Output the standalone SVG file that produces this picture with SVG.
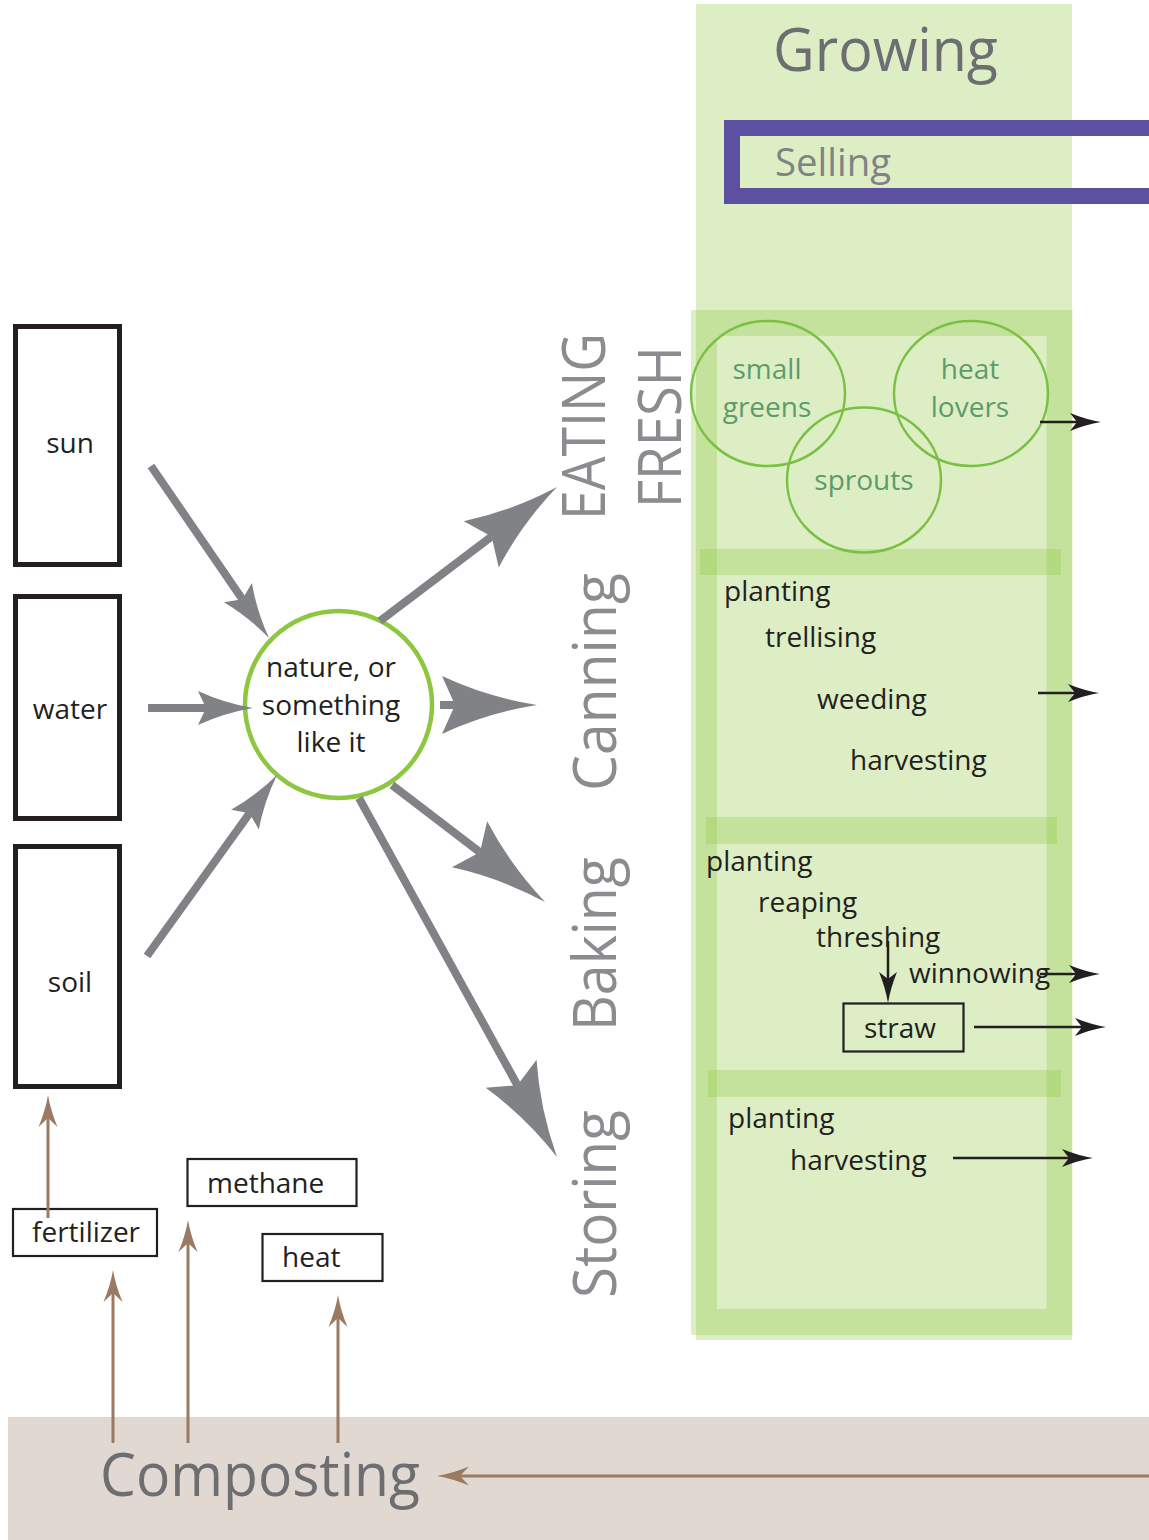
<svg xmlns="http://www.w3.org/2000/svg" width="1149" height="1540" viewBox="0 0 1149 1540">
<style>
text{font-family:"Open Sans","Noto Sans","Liberation Sans",sans-serif}
.t{font-size:28px;fill:#231f20}
.g{font-size:28px;fill:#5c9c6b;text-anchor:middle}
.big{font-size:60px;fill:#8a8c8f}
.box{fill:#fff;stroke:#231f20;stroke-width:2.2}
.tall{fill:#fff;stroke:#231f20;stroke-width:5}
.tint{fill:#8dc63f;fill-opacity:0.3}
.ring{fill:none;stroke:#7ac143;stroke-width:2.5}
.gl{stroke:#808285;stroke-width:8;fill:none}
.bl{stroke:#231f20;stroke-width:2.5;fill:none}
.br{stroke:#9a7a63;stroke-width:3;fill:none}
</style>
<defs>
<marker id="hg" markerUnits="userSpaceOnUse" orient="auto" refX="0" refY="0" markerWidth="1" markerHeight="1" overflow="visible"><path d="M82,0 Q32,-8 -13,-29 L0,0 L-13,29 Q32,8 82,0 Z" fill="#808285"/></marker>
<marker id="hs" markerUnits="userSpaceOnUse" orient="auto" refX="0" refY="0" markerWidth="1" markerHeight="1" overflow="visible"><path d="M47,0 Q18,-5 -8,-17 L0,0 L-8,17 Q18,5 47,0 Z" fill="#808285"/></marker>
<marker id="hb" markerUnits="userSpaceOnUse" orient="auto" refX="0" refY="0" markerWidth="1" markerHeight="1" overflow="visible"><path d="M24,0 Q9,-2.5 -7,-9 L0,0 L-7,9 Q9,2.5 24,0 Z" fill="#231f20"/></marker>
<marker id="hr" markerUnits="userSpaceOnUse" orient="auto" refX="0" refY="0" markerWidth="1" markerHeight="1" overflow="visible"><path d="M23,0 Q8,-2.5 -9,-9.5 L0,0 L-9,9.5 Q8,2.5 23,0 Z" fill="#9a7a63"/></marker>
</defs>

<g id="composting">
<rect x="8" y="1417" width="1141" height="123" fill="#e0d8d1"/>
<text x="100" y="1496" font-size="60" fill="#6d6e71" textLength="320" lengthAdjust="spacingAndGlyphs">Composting</text>
</g>

<g id="growing">
<rect class="tint" x="696" y="4" width="376" height="1336"/>
<rect x="704" y="323" width="355.5" height="999" fill="none" stroke="#8dc63f" stroke-opacity="0.3" stroke-width="26"/>
<rect class="tint" x="700" y="549" width="361" height="26"/>
<rect class="tint" x="706" y="817" width="351" height="27"/>
<rect class="tint" x="708" y="1070" width="353" height="27"/>
<text x="773" y="71" font-size="60" fill="#6d6e71" textLength="225" lengthAdjust="spacingAndGlyphs">Growing</text>
</g>

<g id="selling">
<rect x="732" y="128" width="440" height="68" fill="none" stroke="#5b51a0" stroke-width="16"/>
<text x="775" y="176" font-size="39" fill="#808285" textLength="116" lengthAdjust="spacingAndGlyphs">Selling</text>
</g>

<g id="small-greens"><ellipse class="ring" cx="768" cy="393.5" rx="77" ry="72.5"/><text class="g" x="767" y="379">small</text><text class="g" x="767" y="417">greens</text></g>
<g id="heat-lovers"><ellipse class="ring" cx="971" cy="393.5" rx="77" ry="72.5"/><text class="g" x="970" y="379">heat</text><text class="g" x="970" y="417">lovers</text></g>
<g id="sprouts"><ellipse class="ring" cx="864" cy="480" rx="77" ry="72.5"/><text class="g" x="864" y="490">sprouts</text></g>

<g id="canning-steps">
<text class="t" x="724" y="601">planting</text>
<text class="t" x="765" y="647">trellising</text>
<text class="t" x="817" y="709">weeding</text>
<text class="t" x="850" y="770">harvesting</text>
</g>
<g id="baking-steps">
<text class="t" x="706" y="871">planting</text>
<text class="t" x="758" y="912">reaping</text>
<text class="t" x="816" y="947">threshing</text>
<text class="t" x="909" y="983">winnowing</text>
</g>
<g id="straw"><rect class="box" x="843.5" y="1003.5" width="120" height="48" fill="none" style="fill:none"/><text class="t" x="864" y="1038">straw</text></g>
<g id="storing-steps">
<text class="t" x="728" y="1128">planting</text>
<text class="t" x="790" y="1170">harvesting</text>
</g>

<g id="labels">
<text class="big" transform="translate(605,520) rotate(-90)" textLength="187" lengthAdjust="spacingAndGlyphs">EATING</text>
<text class="big" transform="translate(681,508) rotate(-90)" textLength="162" lengthAdjust="spacingAndGlyphs">FRESH</text>
<text class="big" transform="translate(616,791) rotate(-90)" textLength="218" lengthAdjust="spacingAndGlyphs">Canning</text>
<text class="big" transform="translate(616,1031) rotate(-90)" textLength="174" lengthAdjust="spacingAndGlyphs">Baking</text>
<text class="big" transform="translate(616,1298) rotate(-90)" textLength="188" lengthAdjust="spacingAndGlyphs">Storing</text>
</g>

<g id="sun"><rect class="tall" x="15.5" y="326.5" width="104" height="238"/><text class="t" x="70" y="453" text-anchor="middle">sun</text></g>
<g id="water"><rect class="tall" x="15.5" y="596.5" width="104" height="222"/><text class="t" x="70" y="719" text-anchor="middle">water</text></g>
<g id="soil"><rect class="tall" x="15.5" y="846.5" width="104" height="240"/><text class="t" x="70" y="992" text-anchor="middle">soil</text></g>

<g id="nature"><circle cx="338.5" cy="704.5" r="93.5" fill="#fff" stroke="#8dc63f" stroke-width="4.5"/>
<text class="t" x="331" y="677" text-anchor="middle">nature, or</text>
<text class="t" x="331" y="715" text-anchor="middle">something</text>
<text class="t" x="331" y="752" text-anchor="middle">like it</text></g>

<g id="fertilizer"><rect class="box" x="13" y="1209" width="144" height="47"/><text class="t" x="32" y="1242">fertilizer</text></g>
<g id="methane"><rect class="box" x="187.5" y="1159" width="169" height="47"/><text class="t" x="207" y="1193">methane</text></g>
<g id="heat"><rect class="box" x="262.5" y="1234" width="120" height="47"/><text class="t" x="282" y="1267">heat</text></g>

<g id="connectors">
<path class="gl" d="M151,466 L242.4,599.2" marker-end="url(#hs)"/>
<path class="gl" d="M148,708 L206,708" marker-end="url(#hs)"/>
<path class="gl" d="M147,956 L249.6,813.2" marker-end="url(#hs)"/>
<path class="gl" d="M380,621 L491.6,536.5" marker-end="url(#hg)"/>
<path class="gl" d="M440,705 L455,705" marker-end="url(#hg)"/>
<path class="gl" d="M392,785 L479.9,852.2" marker-end="url(#hg)"/>
<path class="gl" d="M359,798 L517.4,1085.2" marker-end="url(#hg)"/>

<path class="bl" d="M1040,422 L1077,422" marker-end="url(#hb)"/>
<path class="bl" d="M1038,693 L1075,693" marker-end="url(#hb)"/>
<path class="bl" d="M1040,974 L1076,974" marker-end="url(#hb)"/>
<path class="bl" d="M888,941 L888,979" marker-end="url(#hb)"/>
<path class="bl" d="M974,1027 L1082,1027" marker-end="url(#hb)"/>
<path class="bl" d="M953,1158 L1069,1158" marker-end="url(#hb)"/>

<path class="br" d="M48,1218 L48,1118" marker-end="url(#hr)"/>
<path class="br" d="M113,1443 L113,1293" marker-end="url(#hr)"/>
<path class="br" d="M188,1443 L188,1243" marker-end="url(#hr)"/>
<path class="br" d="M338,1443 L338,1318" marker-end="url(#hr)"/>
<path class="br" d="M1149,1476 L460,1476" marker-end="url(#hr)"/>
</g>
</svg>
